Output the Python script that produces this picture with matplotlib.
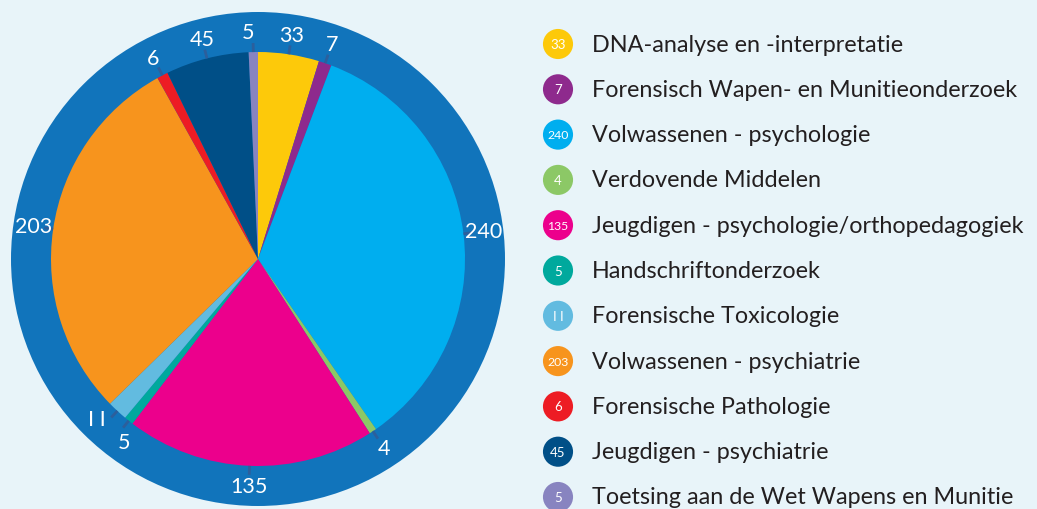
import numpy as np
import matplotlib
matplotlib.use("Agg")
import matplotlib.pyplot as plt
from matplotlib.patches import Circle

categories = [
    "DNA-analyse en -interpretatie",
    "Forensisch Wapen- en Munitieonderzoek",
    "Volwassenen - psychologie",
    "Verdovende Middelen",
    "Jeugdigen - psychologie/orthopedagogiek",
    "Handschriftonderzoek",
    "Forensische Toxicologie",
    "Volwassenen - psychiatrie",
    "Forensische Pathologie",
    "Jeugdigen - psychiatrie",
    "Toetsing aan de Wet Wapens en Munitie",
]
values = [33, 7, 240, 4, 135, 5, 11, 203, 6, 45, 5]
labels = ["33", "7", "240", "4", "135", "5", "I I", "203", "6", "45", "5"]
colors = ["#fdc90a", "#8e2a8d", "#00aeef", "#8cc866", "#ec008c", "#00a99d",
          "#62bbe0", "#f7941d", "#ed1c24", "#004f87", "#8884c0"]
# small angular nudges (degrees) to keep crowded labels apart
nudge = [0, 0, 0, 0, 0, -2.4, 2.4, 0, 0, 0, -1.3]

BG = "#e8f4f9"
RING = "#1174bb"
TICK = "#2c5f9c"
FONT = ["Lato", "DejaVu Sans"]

W, H = 1037, 510
fig = plt.figure(figsize=(W / 100, H / 100), dpi=100, facecolor=BG)
ax = fig.add_axes([0, 0, 1, 1])
ax.set_facecolor(BG)

cx, cy = 258, 250
r_in, r_out = 207, 247

ax.add_patch(Circle((cx, cy), r_out, facecolor=RING, edgecolor="none", zorder=1))
wedges, _ = ax.pie(values, colors=colors, startangle=90, counterclock=False,
                   radius=r_in, center=(cx, cy),
                   wedgeprops=dict(linewidth=0, zorder=2))
for w in wedges:
    w.set_zorder(2)

total = float(sum(values))
cum = np.cumsum([0] + values[:-1])
for v, c0, lab, nd in zip(values, cum, labels, nudge):
    mid = (c0 + v / 2.0) / total * 360.0
    t = np.deg2rad(mid)
    ax.plot([cx + r_in * np.sin(t), cx + (r_in + 9) * np.sin(t)],
            [cy + r_in * np.cos(t), cy + (r_in + 9) * np.cos(t)],
            color=TICK, lw=2, solid_capstyle="butt", zorder=3)
    tl = np.deg2rad(mid + nd)
    ax.text(cx + 227 * np.sin(tl), cy + 227 * np.cos(tl), lab, color="white",
            fontsize=15.5, family=FONT, ha="center", va="center", zorder=4)

# legend
lx, ly0, dy = 558, H - 45, 45.3
for i, (cat, v, col) in enumerate(zip(categories, values, colors)):
    y = ly0 - i * dy
    ax.scatter([lx], [y], s=470, color=col, edgecolors="none", zorder=3)
    ax.text(lx, y, "I I" if v == 11 else str(v), color="white",
            fontsize=9.5 if v < 100 else 8.8,
            family=FONT, ha="center", va="center", zorder=4)
    ax.text(592, y, cat, color="#231f20", fontsize=16.8, family=FONT,
            ha="left", va="center", zorder=4)

ax.set_xlim(0, W)
ax.set_ylim(0, H)
ax.set_aspect("equal")
ax.axis("off")
fig.savefig("out.png", dpi=100, facecolor=BG)
